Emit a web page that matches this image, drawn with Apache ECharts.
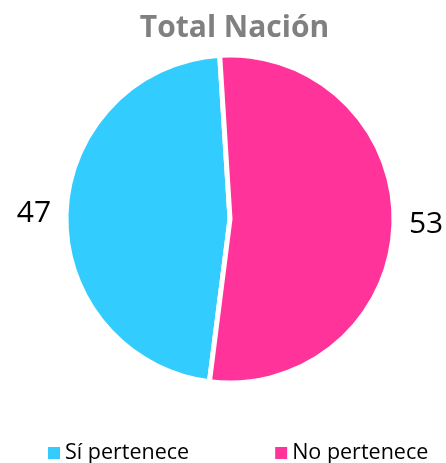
<!DOCTYPE html>
<html>
<head>
<meta charset="utf-8">
<script src="https://cdn.jsdelivr.net/npm/echarts@6/dist/echarts.min.js"></script>
<style>
  html, body { margin: 0; padding: 0; background: #fff; }
  #chart { width: 446px; height: 463px; }
</style>
</head>
<body>
<div id="chart"></div>
<script>
var categories = ['Sí pertenece', 'No pertenece'];
var values = [47, 53];
var colors = ['#33CCFF', '#FF3399'];

var chart = echarts.init(document.getElementById('chart'), null, { renderer: 'canvas' });

var pieData = categories.map(function (name, i) {
  return { name: name, value: values[i], itemStyle: { color: colors[i] } };
});

var option = {
  animation: false,
  title: {
    text: 'Total Nación',
    left: 234.5,
    textAlign: 'center',
    top: 13,
    padding: 0,
    textStyle: { fontFamily: 'Open Sans', fontWeight: 'bold', fontSize: 30, color: '#808080' }
  },
  legend: {
    data: categories,
    left: 46,
    top: 442,
    padding: 0,
    itemWidth: 14,
    itemHeight: 14,
    itemGap: 84,
    icon: 'rect',
    textStyle: { fontFamily: 'Open Sans', fontSize: 21.5, lineHeight: 22, color: '#000', padding: [0, 0, 0, -1] }
  },
  series: [{
    type: 'pie',
    center: [230, 219],
    radius: 164,
    startAngle: 93.6,
    clockwise: false,
    data: pieData,
    itemStyle: { borderColor: '#fff', borderWidth: 5 },
    label: {
      show: true,
      position: 'outside',
      formatter: '{c}',
      fontFamily: 'Open Sans',
      fontSize: 30,
      color: '#000',
      overflow: 'none'
    },
    labelLine: { show: false, length: 6, length2: 4 },
    emphasis: { disabled: true }
  }]
};

chart.setOption(option);
window.addEventListener('resize', function () {
  chart.resize();
});
</script>
</body>
</html>
